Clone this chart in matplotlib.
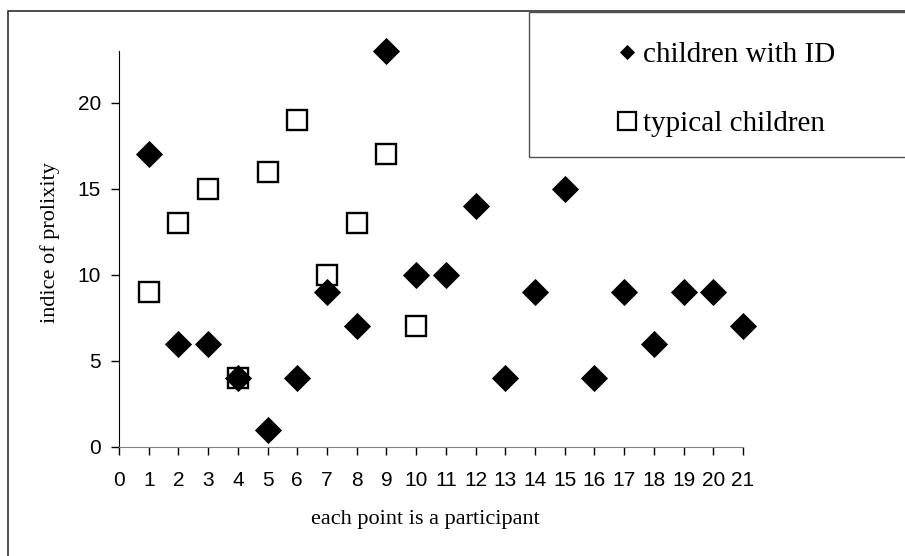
import matplotlib
matplotlib.use("Agg")
import matplotlib.pyplot as plt
from matplotlib.patches import Rectangle

participants_id = list(range(1, 22))
prolixity_id = [17, 6, 6, 4, 1, 4, 9, 7, 23, 10, 10, 14, 4, 9, 15, 4, 9, 6, 9, 9, 7]
participants_typ = list(range(1, 11))
prolixity_typ = [9, 13, 15, 4, 16, 19, 10, 13, 17, 7]
x_ticks = list(range(0, 22))
y_ticks = [0, 5, 10, 15, 20]

fig = plt.figure(figsize=(9.05, 5.56), dpi=100)
W, H = 905, 556
ax = fig.add_axes([119 / W, 1 - 447 / H, (743 - 119) / W, (447 - 51) / H])

ax.plot(participants_typ, prolixity_typ, linestyle="none", marker="s",
        markersize=15, markerfacecolor="white", markeredgecolor="black",
        markeredgewidth=1.7, label="typical children", zorder=3, clip_on=False)
ax.plot(participants_id, prolixity_id, linestyle="none", marker="D",
        markersize=13.5, markerfacecolor="black", markeredgecolor="black",
        markeredgewidth=0.6, label="children with ID", zorder=4, clip_on=False)

ax.set_xlim(0, 21)
ax.set_ylim(0, 23)
ax.set_xticks(x_ticks)
ax.set_yticks(y_ticks)
ax.spines["top"].set_visible(False)
ax.spines["right"].set_visible(False)
ax.spines["left"].set_color("black")
ax.spines["bottom"].set_color("#808080")
ax.tick_params(axis="both", direction="out", length=6, width=1, color="black",
               labelsize=15)
ax.tick_params(axis="x", pad=11)
ax.tick_params(axis="y", pad=7)
for lab in ax.get_xticklabels() + ax.get_yticklabels():
    lab.set_fontfamily("Liberation Sans")

ax.set_xlabel("each point is a participant", fontfamily="Liberation Serif",
              fontsize=16)
ax.set_ylabel("indice of prolixity", fontfamily="Liberation Serif",
              fontsize=16)
ax.xaxis.set_label_coords(0.491, -0.16)
ax.yaxis.set_label_coords(-0.094, 0.515)

# outer chart frame
fig.patches.append(Rectangle((8 / W, -0.1), 1.2, 1 - 11 / H + 0.1,
                             transform=fig.transFigure, fill=False,
                             edgecolor="#303030", linewidth=1.2))
# legend frame
fig.patches.append(Rectangle((529 / W, 1 - 157 / H), 1.0, (157 - 12) / H,
                             transform=fig.transFigure, fill=False,
                             edgecolor="#505050", linewidth=1.0, zorder=5))

handles, labels = ax.get_legend_handles_labels()
order = [1, 0]
leg = fig.legend([handles[i] for i in order], [labels[i] for i in order],
                 loc="upper left", bbox_to_anchor=(615 / W, 1 - 42 / H),
                 frameon=False, prop={"family": "Liberation Serif", "size": 21},
                 labelspacing=1.45, handlelength=0.8, handletextpad=0.15,
                 borderaxespad=0, borderpad=0)
lh = leg.legend_handles
lh[0].set_markersize(7)
lh[1].set_markersize(13)
lh[1].set_markeredgewidth(1.6)

fig.savefig("out.png", dpi=100)
